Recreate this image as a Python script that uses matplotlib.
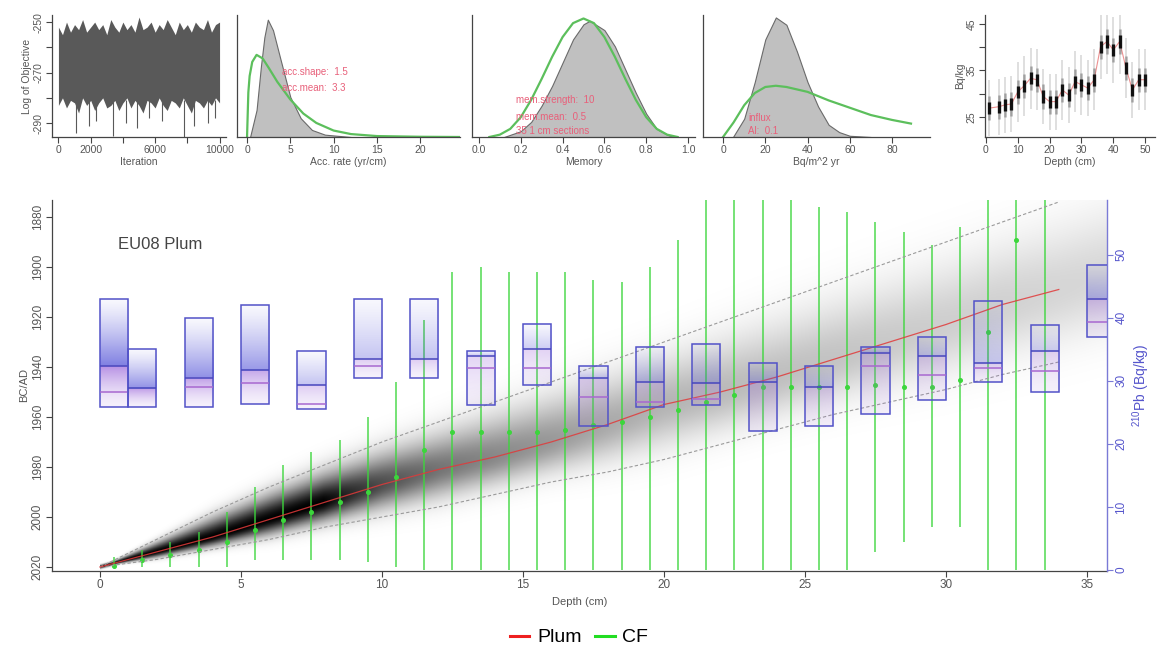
import numpy as np
import matplotlib
matplotlib.use("Agg")
import matplotlib.pyplot as plt
from matplotlib.patches import Rectangle
from matplotlib.lines import Line2D

plt.rcParams['font.family'] = ['Liberation Sans', 'DejaVu Sans']
plt.rcParams['mathtext.default'] = 'regular'

# ---------------- data ----------------
# MCMC trace (envelope + downward spikes)
trace_iter = list(range(0, 10001, 250))
trace_upper = [-252, -255, -250, -254, -251, -253, -249, -254, -252, -250,
               -253, -251, -255, -249, -252, -254, -250, -253, -251, -254,
               -248, -253, -252, -250, -254, -251, -253, -249, -252, -255,
               -250, -253, -251, -254, -250, -252, -253, -249, -254, -251, -250]
trace_lower = [-283, -280, -284, -281, -282, -286, -280, -283, -281, -285,
               -282, -280, -284, -283, -281, -285, -282, -280, -284, -281,
               -283, -286, -281, -282, -284, -280, -283, -285, -281, -282,
               -284, -280, -283, -286, -281, -282, -284, -281, -283, -280, -282]
spike_iter = [1100, 1900, 2300, 3400, 4200, 4900, 5600, 6400, 7800, 8400, 9300, 9700]
spike_min = [-294, -291, -289, -295, -290, -292, -288, -289, -296, -291, -290, -288]

# accumulation rate: posterior (grey) and prior (green), relative density
acc_x = [0.35, 1.1, 1.6, 2.0, 2.4, 3.0, 3.8, 5.0, 6.2, 7.5, 9.0, 12.0]
acc_post = [0.0, 0.23, 0.60, 0.85, 1.0, 0.91, 0.68, 0.34, 0.16, 0.06, 0.02, 0.0]
acc_px = [0.0, 0.15, 0.3, 0.6, 1.1, 1.8, 2.5, 3.5, 5.0, 6.5, 8.0, 10.0, 12.0, 15.0, 20.0, 24.6]
acc_prior = [0.0, 0.38, 0.52, 0.64, 0.70, 0.67, 0.59, 0.47, 0.32, 0.20, 0.12, 0.055, 0.025, 0.008, 0.002, 0.0]

# memory
mem_x = [0.12, 0.2, 0.25, 0.3, 0.35, 0.4, 0.45, 0.5, 0.53, 0.6, 0.65, 0.7, 0.75, 0.8, 0.85, 0.9, 0.93]
mem_post = [0.0, 0.05, 0.13, 0.27, 0.44, 0.64, 0.84, 0.97, 1.0, 0.92, 0.78, 0.58, 0.38, 0.2, 0.07, 0.02, 0.0]
mem_px = [0.05, 0.1, 0.15, 0.2, 0.25, 0.3, 0.35, 0.4, 0.45, 0.5, 0.55, 0.6, 0.65, 0.7, 0.75, 0.8, 0.85, 0.9, 0.95]
mem_prior = [0.0, 0.02, 0.07, 0.17, 0.32, 0.50, 0.69, 0.86, 0.98, 1.02, 0.98, 0.86, 0.69, 0.50, 0.32, 0.17, 0.07, 0.02, 0.0]

# supply / influx
flux_x = [4.7, 10, 15, 20, 25, 30, 35, 40, 45, 50, 55, 60, 70]
flux_post = [0.0, 0.15, 0.45, 0.8, 0.98, 0.92, 0.7, 0.45, 0.25, 0.1, 0.04, 0.01, 0.0]
flux_px = [0, 5, 10, 15, 20, 25, 30, 40, 50, 60, 70, 80, 89]
flux_prior = [0.0, 0.12, 0.26, 0.36, 0.41, 0.42, 0.41, 0.37, 0.30, 0.24, 0.18, 0.14, 0.11]

# 210Pb profile (top right)
prof_depth = [1, 4, 6, 8, 10, 12, 14, 16, 18, 20, 22, 24, 26, 28, 30, 32, 34,
              36, 38, 40, 42, 44, 46, 48, 50]
prof_val = [26.9, 27.2, 27.6, 27.8, 30.4, 31.7, 33.3, 33.0, 29.4, 28.3, 28.3, 30.8, 29.7,
            32.6, 31.9, 31.2, 33.0, 40.1, 41.2, 39.4, 41.2, 35.5, 30.8, 33.0, 33.0]
prof_sd = [6.0, 6.0, 6.0, 6.0, 6.5, 6.5, 6.5, 6.5, 6.0, 6.0, 6.0, 6.5, 6.0,
           6.5, 6.5, 6.0, 6.5, 7.0, 7.0, 7.0, 7.0, 6.5, 6.0, 6.5, 6.5]

# age-depth model (Plum)
model_depth = [0, 2, 4, 6, 8, 10, 12, 14, 16, 18, 20, 22, 24, 26, 28, 30, 32, 34, 36]
model_mean = [2020, 2014, 2008, 2001, 1994, 1987, 1981, 1976, 1970, 1963,
              1955, 1950, 1944, 1937, 1930, 1923, 1915, 1909, 1902]
model_old = [2020, 2009, 1998, 1988, 1979, 1970, 1962, 1954, 1946, 1938,
             1930, 1922, 1914, 1906, 1898, 1890, 1882, 1874, 1866]
model_young = [2020, 2017, 2013, 2009, 2004, 2000, 1996, 1991, 1986, 1982,
               1977, 1971, 1965, 1959, 1954, 1949, 1943, 1938, 1932]

# CF model ages
cf_depth = [d + 0.5 for d in range(34)]
cf_old = [2016, 2013, 2010, 2006, 1998, 1988, 1979, 1974, 1969, 1960,
          1946, 1921, 1902, 1900, 1902, 1902, 1902, 1905, 1906, 1900,
          1889, 1860, 1860, 1860, 1860, 1876, 1878, 1882, 1886, 1891,
          1884, 1860, 1860, 1860]
cf_young = [2020.5, 2020, 2020, 2020, 2020, 2017, 2017, 2017, 2017, 2018,
            2020, 2021, 2021, 2021, 2021, 2021, 2021, 2021, 2021, 2021,
            2021, 2021, 2021, 2021, 2021, 2021, 2021, 2014, 2010, 2004,
            2004, 2021, 2021, 2021]
cf_mean = [2019.5, 2017, 2015, 2013, 2010, 2005, 2001, 1998, 1994, 1990,
           1984, 1973, 1966, 1966, 1966, 1966, 1965, 1963, 1962, 1960,
           1957, 1954, 1951, 1948, 1948, 1948, 1948, 1947, 1948, 1948,
           1945, 1926, 1889, 1860]

# measured 210Pb samples
pb_d0 = [0, 1, 3, 5, 7, 9, 11, 13, 15, 17, 19, 21, 23, 25, 27, 29, 31, 33, 35]
pb_d1 = [1, 2, 4, 6, 8, 10, 12, 14, 16, 18, 20, 22, 24, 26, 28, 30, 32, 34, 36]
pb_hi = [43.0, 35.1, 39.9, 42.1, 34.8, 43.0, 43.0, 34.8, 39.1, 32.4,
         35.4, 35.9, 32.8, 32.3, 35.4, 37.0, 42.6, 38.8, 48.4]
pb_lo = [25.9, 25.9, 25.9, 26.4, 25.5, 30.4, 30.4, 26.1, 29.3, 22.9,
         25.8, 26.1, 22.0, 22.9, 24.7, 26.9, 29.9, 28.3, 36.9]
pb_line1 = [32.4, 28.8, 30.5, 31.8, 29.3, 33.4, 33.4, 34.0, 35.0, 30.4,
            29.9, 29.6, 29.9, 29.0, 34.5, 33.9, 32.8, 34.7, 43.0]
pb_line2 = [28.3, np.nan, 29.1, 29.6, 26.4, 32.4, np.nan, 32.0, 32.0, 27.4,
            26.7, 27.2, np.nan, np.nan, 32.4, 30.9, 32.0, 31.5, 39.4]

# ---------------- figure ----------------
fig = plt.figure(figsize=(11.58, 6.52), dpi=100)
W, H = 1158.0, 652.0


def add_ax(x0, x1, y0, y1):
    return fig.add_axes([x0 / W, 1 - y1 / H, (x1 - x0) / W, (y1 - y0) / H])


def r_style(ax, color='#444444'):
    for s in ['top', 'right']:
        ax.spines[s].set_visible(False)
    for s in ['left', 'bottom']:
        ax.spines[s].set_color(color)
        ax.spines[s].set_linewidth(0.9)
    ax.tick_params(direction='out', length=4, width=0.8, colors=color,
                   labelcolor='#555555', labelsize=7.5, pad=2)
    ax.set_facecolor('none')


lab_kw = dict(fontsize=7.5, color='#555555', labelpad=1)
txt_kw = dict(fontsize=7, color='#e8607a', ha='left', va='center')

# trace
ax_t = add_ax(52, 226, 15, 137)
ax_t.fill_between(trace_iter, trace_lower, trace_upper, color='#595959', lw=0)
ax_t.vlines(spike_iter, spike_min, -281, color='#595959', lw=0.8)
ax_t.set_xlim(-400, 10400)
ax_t.set_ylim(-295.5, -247.2)
ax_t.set_xticks([0, 2000, 4000, 6000, 8000, 10000])
ax_t.set_xticklabels(['0', '2000', '', '6000', '', '10000'])
ax_t.set_yticks([-250, -260, -270, -280, -290])
ax_t.set_yticklabels(['-250', '', '-270', '', '-290'], rotation=90, va='center')
ax_t.set_xlabel('Iteration', **lab_kw)
ax_t.set_ylabel('Log of Objective', **lab_kw)
r_style(ax_t)

# acc rate
ax_a = add_ax(237, 460, 15, 137)
ax_a.fill_between(acc_x, 0, acc_post, color='#c0c0c0', ec='#6a6a6a', lw=0.8)
ax_a.plot(acc_px, acc_prior, color='#5cbf5c', lw=1.6)
ax_a.set_xlim(-1.16, 24.6)
ax_a.set_ylim(0, 1.04)
ax_a.set_xticks([0, 5, 10, 15, 20])
ax_a.set_yticks([])
ax_a.set_xlabel('Acc. rate (yr/cm)', **lab_kw)
ax_a.text(4.0, 0.555, 'acc.shape:  1.5', **txt_kw)
ax_a.text(4.0, 0.42, 'acc.mean:  3.3', **txt_kw)
r_style(ax_a)

# memory
ax_m = add_ax(472, 695, 15, 137)
ax_m.fill_between(mem_x, 0, mem_post, color='#c0c0c0', ec='#6a6a6a', lw=0.8)
ax_m.plot(mem_px, mem_prior, color='#5cbf5c', lw=1.6)
ax_m.set_xlim(-0.033, 1.033)
ax_m.set_ylim(0, 1.05)
ax_m.set_xticks([0, 0.2, 0.4, 0.6, 0.8, 1.0])
ax_m.set_xticklabels(['0.0', '0.2', '0.4', '0.6', '0.8', '1.0'])
ax_m.set_yticks([])
ax_m.set_xlabel('Memory', **lab_kw)
ax_m.text(0.177, 0.32, 'mem.strength:  10', **txt_kw)
ax_m.text(0.177, 0.17, 'mem.mean:  0.5', **txt_kw)
ax_m.text(0.177, 0.05, '35 1 cm sections', **txt_kw)
r_style(ax_m)

# influx
ax_f = add_ax(703, 930, 15, 137)
ax_f.fill_between(flux_x, 0, flux_post, color='#c0c0c0', ec='#6a6a6a', lw=0.8)
ax_f.plot(flux_px, flux_prior, color='#5cbf5c', lw=1.6)
ax_f.set_xlim(-9.5, 98)
ax_f.set_ylim(0, 1.0)
ax_f.set_xticks([0, 20, 40, 60, 80])
ax_f.set_yticks([])
ax_f.set_xlabel('Bq/m^2 yr', **lab_kw)
ax_f.text(11.8, 0.156, 'influx', **txt_kw)
ax_f.text(11.8, 0.05, 'Al:  0.1', **txt_kw)
r_style(ax_f)

# 210Pb profile
ax_p = add_ax(985, 1155, 15, 137)
pv = np.array(prof_val)
psd = np.array(prof_sd)
ax_p.vlines(prof_depth, pv - psd, pv + psd, color='#d6d6d6', lw=1.1)
ax_p.plot(prof_depth, prof_val, color='#e04848', lw=0.8, alpha=0.6)
ax_p.vlines(prof_depth, pv - 2.6, pv + 2.6, color='#555555', lw=1.8, alpha=0.45)
ax_p.vlines(prof_depth, pv - 1.3, pv + 1.3, color='black', lw=2.4, alpha=0.9)
ax_p.set_xlim(-0.3, 53.1)
ax_p.set_ylim(20.7, 46.9)
ax_p.set_xticks([0, 10, 20, 30, 40, 50])
ax_p.set_yticks([25, 30, 35, 40, 45])
ax_p.set_yticklabels(['25', '', '35', '', '45'], rotation=90, va='center')
ax_p.set_xlabel('Depth (cm)', **lab_kw)
ax_p.set_ylabel('Bq/kg', **lab_kw)
r_style(ax_p)

# ---------------- main age-depth panel ----------------
ax = add_ax(52, 1107, 200, 571)
ax2 = ax.twinx()

# grey density of the age-depth model
dd = np.linspace(0, 36, 720)
yy = np.linspace(1873, 2022, 600)
m = np.interp(dd, model_depth, model_mean)
o = np.interp(dd, model_depth, model_old)
yg = np.interp(dd, model_depth, model_young)
Y = yy[:, None]
sig = np.where(Y < m, np.maximum((m - o) / 2, 0.5), np.maximum((yg - m) / 2, 0.5))
width = np.maximum(yg - o, 4)
dens = np.exp(-0.5 * ((Y - m) / sig) ** 2) * np.clip((24.8 / width) ** 1.9, 0, 1)
img = np.zeros(dens.shape + (4,))
img[..., 3] = dens
ax.imshow(img, extent=[0, 36, 1873, 2022], origin='lower', aspect='auto',
          interpolation='bilinear', zorder=1)

# CF ages
ax.vlines(cf_depth, cf_old, cf_young, color='#3cd63c', lw=1.1, alpha=0.9, zorder=3)
ax.plot(cf_depth, cf_mean, 'o', ms=2.6, color='#3cd63c', zorder=3)

# Plum mean and range
md = np.array(model_depth)
keep = md <= 34
ax.plot(md[keep], np.array(model_old)[keep], color='#9a9a9a', lw=0.8, ls=(0, (3, 2)), zorder=4)
ax.plot(md[keep], np.array(model_young)[keep], color='#9a9a9a', lw=0.8, ls=(0, (3, 2)), zorder=4)
ax.plot(md[keep], np.array(model_mean)[keep], color='#e03a3a', lw=0.9, alpha=0.85, zorder=4)

ax.set_xlim(-1.70, 35.71)
ax.set_ylim(2021.6, 1873.2)
ax.set_xticks(range(0, 36, 5))
ax.set_yticks(range(1880, 2021, 20))
for t in ax.get_yticklabels():
    t.set_rotation(90)
    t.set_va('center')
ax.set_xlabel('Depth (cm)', fontsize=8, color='#555555', labelpad=4)
ax.set_ylabel('BC/AD', fontsize=8, color='#555555', labelpad=2)
r_style(ax)
ax.tick_params(labelsize=8.5, length=4)
ax.text(0.063, 0.88, 'EU08 Plum', transform=ax.transAxes, fontsize=12,
        color='#444444', ha='left', va='center')

# 210Pb boxes on the right axis
blue = np.array([0.33, 0.33, 0.85])
purple = np.array([0.62, 0.42, 0.86])
shade_peak = [0.75, 0.65, 0.65, 0.6, 0.35, 0.35, 0.35, 0.3, 0.3, 0.3,
              0.3, 0.3, 0.3, 0.28, 0.3, 0.3, 0.3, 0.28, 0.4]
for i in range(len(pb_d0)):
    lo, hi, l1 = pb_lo[i], pb_hi[i], pb_line1[i]
    vals = np.linspace(lo, hi, 120)
    a = np.where(vals >= l1,
                 0.04 + (shade_peak[i] - 0.04) * (1 - (vals - l1) / max(hi - l1, 0.1)) ** 1.2,
                 0.10 + (shade_peak[i] - 0.10) * ((vals - lo) / max(l1 - lo, 0.1)) ** 1.5)
    col = np.where((vals >= l1)[:, None], blue, purple)
    g = np.zeros((120, 1, 4))
    g[:, 0, :3] = col
    g[:, 0, 3] = a
    ax2.imshow(g, extent=[pb_d0[i], pb_d1[i], lo, hi], origin='lower',
               aspect='auto', interpolation='bilinear', zorder=2)
    ax2.add_patch(Rectangle((pb_d0[i], lo), pb_d1[i] - pb_d0[i], hi - lo, fill=False,
                            ec='#5252c8', lw=1.1, zorder=3))
    ax2.hlines(l1, pb_d0[i], pb_d1[i], color='#4646bd', lw=1.1, zorder=3)
    if not np.isnan(pb_line2[i]):
        ax2.hlines(pb_line2[i], pb_d0[i], pb_d1[i], color='#a868d0', lw=1.1, zorder=3)

ax2.set_xlim(-1.70, 35.71)
ax2.set_ylim(-0.16, 58.7)
ax2.set_yticks(range(0, 51, 10))
for s in ['top', 'left', 'bottom']:
    ax2.spines[s].set_visible(False)
ax2.spines['right'].set_color('#7a7ad6')
ax2.spines['right'].set_linewidth(1.0)
ax2.tick_params(direction='out', length=4, width=0.8, colors='#7a7ad6',
                labelcolor='#5555cc', labelsize=8.5, pad=2)
for t in ax2.get_yticklabels():
    t.set_rotation(90)
    t.set_va('center')
ax2.set_ylabel('$^{210}$Pb (Bq/kg)', fontsize=10, color='#5555cc', labelpad=2)

# legend
handles = [Line2D([], [], color='#ee2020', lw=2.2), Line2D([], [], color='#22dd22', lw=2.2)]
fig.legend(handles, ['Plum', 'CF'], loc='center', bbox_to_anchor=(0.5, 0.022), ncol=2,
           frameon=False, fontsize=14, handlelength=1.0, handletextpad=0.4,
           columnspacing=0.7)

fig.savefig('out.png', dpi=100, facecolor='white')
